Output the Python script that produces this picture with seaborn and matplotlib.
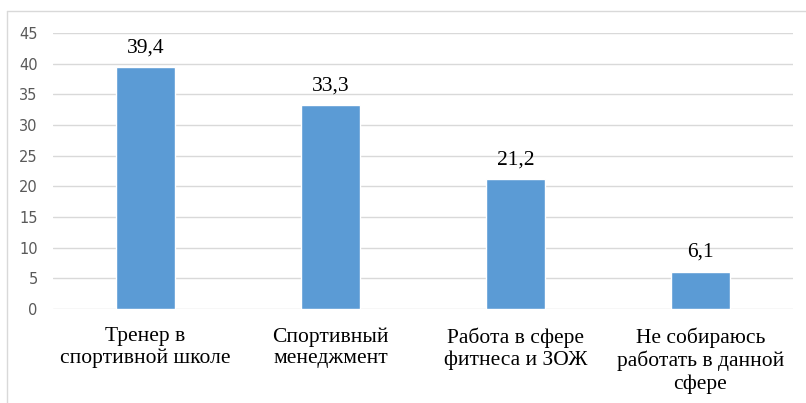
import matplotlib
matplotlib.use("Agg")
import matplotlib.pyplot as plt
import seaborn as sns
import pandas as pd
from matplotlib.lines import Line2D

categories = ["Тренер в\nспортивной школе", "Спортивный\nменеджмент",
              "Работа в сфере\nфитнеса и ЗОЖ", "Не собираюсь\nработать в данной\nсфере"]
values = [39.4, 33.3, 21.2, 6.1]
yticks = [0, 5, 10, 15, 20, 25, 30, 35, 40, 45]

sns.set_theme(style="white")
plt.rcParams['font.family'] = ['Liberation Serif', 'DejaVu Serif']

df = pd.DataFrame({"cat": categories, "val": values})

fig = plt.figure(figsize=(8.06, 4.03), dpi=100)
ax = fig.add_axes([53/806, 1 - 309/403, 740/806, 276/403])
sns.barplot(data=df, x="cat", y="val", color="#5B9BD5", saturation=1,
            width=0.315, ax=ax, zorder=3)

ax.set_ylim(0, 45)
ax.set_yticks(yticks)
ax.set_yticklabels([str(t) for t in yticks], family="DejaVu Sans",
                   fontsize=10.5, color="#595959")
ax.set_xlabel("")
ax.set_ylabel("")
ax.grid(axis="y", color="#D9D9D9", linewidth=1, zorder=0)
ax.grid(axis="x", visible=False)
for s in ax.spines.values():
    s.set_visible(False)
ax.tick_params(axis="y", length=0, pad=11)
ax.tick_params(axis="x", length=0, pad=13)
for lbl in ax.get_xticklabels():
    lbl.set_fontsize(15.5)
    lbl.set_color("#000000")
    lbl.set_linespacing(1.2)
    lbl.set_verticalalignment("top")

for p, v in zip(ax.patches, values):
    ax.annotate(f"{v:.1f}".replace(".", ","),
                (p.get_x() + p.get_width() / 2, p.get_height()),
                xytext=(0, 10.5), textcoords="offset points",
                ha="center", va="baseline", fontsize=15.5, color="#000000")

# figure border (top and left visible)
fig.add_artist(Line2D([7/806, 7/806], [0, 1 - 11/403], transform=fig.transFigure,
                      color="#D9D9D9", linewidth=1))
fig.add_artist(Line2D([7/806, 1], [1 - 11/403, 1 - 11/403], transform=fig.transFigure,
                      color="#D9D9D9", linewidth=1))

fig.savefig("out.png", dpi=100)
